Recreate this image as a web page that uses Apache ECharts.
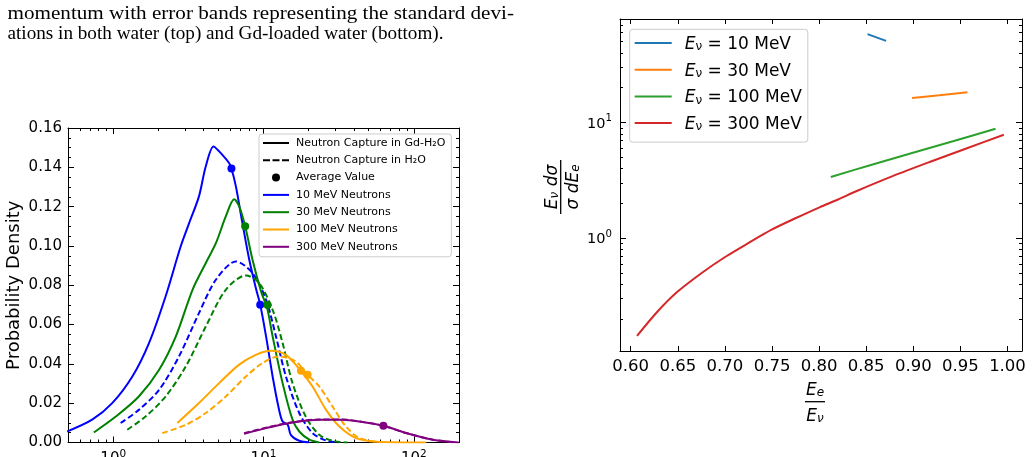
<!DOCTYPE html>
<html>
<head>
<meta charset="utf-8">
<script src="https://cdn.jsdelivr.net/npm/echarts@6/dist/echarts.min.js"></script>
<style>
  html, body { margin: 0; padding: 0; background: #fff; }
  #chart { width: 1033px; height: 457px; }
</style>
</head>
<body>
<div id="chart"></div>
<script>
const font = "DejaVu Sans";

// ---- left panel: probability density, x on a log axis ----
// solid = capture in Gd-H2O, dashed = capture in H2O
const blueGdX = [0.493, 0.724, 0.984, 1.34, 1.73, 2.23, 2.81, 3.2, 3.72, 4.13, 4.65, 5.07, 5.9, 6.12, 6.55, 7.24, 8.04, 8.89, 9.51, 10.4, 11.5, 12.7, 13.4, 14.5, 15.2, 17.3, 20.2];
const blueGdY = [0.0056, 0.0116, 0.02, 0.0336, 0.0506, 0.0743, 0.0997, 0.1116, 0.1252, 0.1405, 0.1506, 0.1481, 0.1422, 0.1394, 0.1303, 0.1116, 0.093, 0.0786, 0.0701, 0.054, 0.0336, 0.0166, 0.0107, 0.009, 0.0039, 0.0009, 0];
const blueH2oX = [1.12, 1.48, 2.02, 2.74, 3.72, 4.82, 6.55, 8.45, 10.4, 12.1, 14.1, 17.3, 21.2, 26.1, 31.6];
const blueH2oY = [0.0099, 0.0166, 0.0268, 0.0438, 0.0658, 0.0828, 0.0921, 0.0862, 0.0726, 0.054, 0.0336, 0.015, 0.0048, 0.001, 0];

const greenGdX = [0.743, 1.04, 1.48, 2.02, 2.61, 3.37, 4.13, 4.82, 5.61, 6.38, 6.89, 7.55, 8.45, 9.62, 10.6, 11.5, 13.4, 15.6, 17.3, 20.2, 23.5];
const greenGdY = [0.0051, 0.0132, 0.0234, 0.037, 0.054, 0.0777, 0.0913, 0.1014, 0.115, 0.1238, 0.1201, 0.11, 0.093, 0.077, 0.068, 0.054, 0.0302, 0.0116, 0.0056, 0.0014, 0];
const greenH2oX = [1.24, 1.64, 2.23, 3.04, 4.13, 5.61, 7.64, 9.35, 11.5, 13.4, 15.6, 19.1, 23.5, 28.8, 36.3];
const greenH2oY = [0.0065, 0.0132, 0.0234, 0.0387, 0.059, 0.0777, 0.085, 0.0811, 0.0675, 0.0506, 0.0302, 0.0132, 0.0039, 0.0009, 0];

const orangeGdX = [2.67, 3.72, 5.07, 6.89, 8.89, 11.2, 14.1, 17.7, 21.2, 26.1, 32.0, 41.3, 56.1, 121];
const orangeGdY = [0.0099, 0.0201, 0.0302, 0.0396, 0.0446, 0.0467, 0.0446, 0.0365, 0.0285, 0.0166, 0.0081, 0.0022, 0.0004, 0];
const orangeH2oX = [2.12, 3.04, 4.13, 5.61, 7.64, 9.84, 12.7, 16.4, 19.6, 23.5, 28.8, 35.4, 43.5, 57.5];
const orangeH2oY = [0.0048, 0.009, 0.015, 0.0234, 0.0336, 0.0404, 0.0438, 0.0412, 0.0345, 0.0285, 0.0183, 0.0081, 0.0022, 0.0004];

const purpleGdX = [7.43, 10.4, 15.6, 23.5, 33.7, 43.5, 62.8, 88.9, 134, 199];
const purpleGdY = [0.0044, 0.0073, 0.0102, 0.0116, 0.0116, 0.0107, 0.0085, 0.0048, 0.0014, 0];
const purpleH2oX = [7.43, 10.4, 15.6, 23.5, 33.7, 43.5, 62.8, 88.9, 134, 190];
const purpleH2oY = [0.0047, 0.0075, 0.0103, 0.0117, 0.0117, 0.0107, 0.0085, 0.0048, 0.0014, 0];

// average values (dots)
const avgBlueX = [6.12, 9.51];
const avgBlueY = [0.1394, 0.0701];
const avgGreenX = [7.55, 10.65];
const avgGreenY = [0.11, 0.07];
const avgOrangeX = [17.75, 19.65];
const avgOrangeY = [0.0365, 0.0345];
const avgPurpleX = [62.8];
const avgPurpleY = [0.0085];

const leftXMajor = [1, 10, 100];
const leftXMinor = [0.6, 0.7, 0.8, 0.9, 2, 3, 4, 5, 6, 7, 8, 9, 20, 30, 40, 50, 60, 70, 80, 90];

// ---- right panel: Ee/Ev vs normalised cross section, y on a log axis ----
const e10X = [0.8514, 0.8711];
const e10Y = [58.2, 50.9];
const e30X = [0.8987, 0.9275, 0.9575];
const e30Y = [16.3, 17.2, 18.3];
const e100X = [0.8124, 0.855, 0.8987, 0.943, 0.9873];
const e100Y = [3.38, 4.3, 5.45, 6.92, 8.83];
const e300X = [0.6067, 0.628, 0.6492, 0.6757, 0.7006, 0.7253, 0.7501, 0.7749, 0.8004, 0.82, 0.84, 0.878, 0.918, 0.957, 0.9961];
const e300Y = [0.143, 0.23, 0.342, 0.503, 0.691, 0.912, 1.19, 1.487, 1.85, 2.16, 2.56, 3.44, 4.58, 6.0, 7.85];

const rightXTicks = [0.6, 0.65, 0.7, 0.75, 0.8, 0.85, 0.9, 0.95, 1.0];
const rightYMajor = [1, 10];
const rightYMinor = [0.2, 0.3, 0.4, 0.5, 0.6, 0.7, 0.8, 0.9, 2, 3, 4, 5, 6, 7, 8, 9, 20, 30, 40, 50, 60, 70];

const lg = Math.log10;
const logX = (xs, ys) => xs.map((x, i) => [lg(x), ys[i]]);
const logY = (xs, ys) => xs.map((x, i) => [x, lg(ys[i])]);

const supLabel = (size) => ({
  b: { fontFamily: font, fontSize: size, color: "#000", verticalAlign: "bottom", lineHeight: size + 3 },
  s: { fontFamily: font, fontSize: size * 0.7, color: "#000", verticalAlign: "top", lineHeight: size * 0.7 },
});

const tickAxis = (opt) => ({
  type: "value",
  gridIndex: opt.grid,
  position: opt.pos,
  min: opt.min,
  max: opt.max,
  interval: opt.interval,
  splitLine: { show: false },
  nameMoveOverlap: false,
  axisLine: { show: opt.line !== false, onZero: false, lineStyle: { color: "#000", width: 1 } },
  axisTick: {
    show: true,
    inside: true,
    length: opt.len || 6,
    customValues: opt.ticks,
    lineStyle: { color: "#000", width: 1 },
  },
  minorTick: opt.minor
    ? { show: true, splitNumber: opt.minor, length: 3, lineStyle: { color: "#000", width: 1 } }
    : { show: false },
  axisLabel: opt.label || { show: false },
});

const LX = [lg(0.5), lg(200)];
const RX = [0.5886, 1.0154];
const RY = [-0.9755, 1.8955];

const xAxis = [
  tickAxis({
    grid: 0, pos: "bottom", min: LX[0], max: LX[1], ticks: leftXMajor.map(lg),
    label: {
      show: true, margin: 6, customValues: leftXMajor.map(lg),
      formatter: (v) => "{b|10}{s|" + Math.round(v) + "}", rich: supLabel(15),
    },
  }),
  tickAxis({ grid: 0, pos: "bottom", min: LX[0], max: LX[1], ticks: leftXMinor.map(lg), len: 3, line: false }),
  tickAxis({ grid: 0, pos: "top", min: LX[0], max: LX[1], ticks: leftXMajor.map(lg) }),
  tickAxis({ grid: 0, pos: "top", min: LX[0], max: LX[1], ticks: leftXMinor.map(lg), len: 3, line: false }),
  tickAxis({
    grid: 1, pos: "bottom", min: RX[0], max: RX[1], ticks: rightXTicks, len: 5,
    label: {
      show: true, margin: 7, customValues: rightXTicks, color: "#000",
      fontFamily: font, fontSize: 16.5, formatter: (v) => v.toFixed(2),
    },
  }),
  tickAxis({ grid: 1, pos: "top", min: RX[0], max: RX[1], ticks: rightXTicks, len: 5 }),
];

const yAxis = [
  Object.assign(
    tickAxis({
      grid: 0, pos: "left", min: 0, max: 0.16, interval: 0.02, minor: 4,
      label: { show: true, margin: 6, color: "#000", fontFamily: font, fontSize: 15, formatter: (v) => v.toFixed(2) },
    }),
    {
      name: "Probability Density",
      nameLocation: "middle",
      nameGap: 45,
      nameRotate: 90,
      nameTextStyle: { fontFamily: font, fontSize: 18, color: "#000" },
    }
  ),
  tickAxis({ grid: 0, pos: "right", min: 0, max: 0.16, interval: 0.02, minor: 4 }),
  tickAxis({
    grid: 1, pos: "left", min: RY[0], max: RY[1], ticks: rightYMajor.map(lg),
    label: {
      show: true, margin: 8, customValues: rightYMajor.map(lg),
      formatter: (v) => "{b|10}{s|" + Math.round(v) + "}", rich: supLabel(14.5),
    },
  }),
  tickAxis({ grid: 1, pos: "left", min: RY[0], max: RY[1], ticks: rightYMinor.map(lg), len: 3, line: false }),
  tickAxis({ grid: 1, pos: "right", min: RY[0], max: RY[1], ticks: rightYMajor.map(lg) }),
  tickAxis({ grid: 1, pos: "right", min: RY[0], max: RY[1], ticks: rightYMinor.map(lg), len: 3, line: false }),
];

const BLUE = "#0000ff", GREEN = "#008000", ORANGE = "#ffa500", PURPLE = "#800080";

const leftLine = (name, color, dashed, xs, ys) => ({
  type: "line",
  name: name,
  xAxisIndex: 0,
  yAxisIndex: 0,
  data: logX(xs, ys),
  symbol: "none",
  smooth: 0.3,
  silent: true,
  lineStyle: { color: color, width: 2, type: dashed ? [6, 3] : "solid" },
});

const dots = (color, xs, ys) => ({
  type: "scatter",
  name: "avg " + color,
  xAxisIndex: 0,
  yAxisIndex: 0,
  data: logX(xs, ys),
  symbolSize: 8,
  silent: true,
  z: 3,
  itemStyle: { color: color, opacity: 1 },
});

// legend-only entries
const legendOnly = (name, color) => ({
  type: "scatter",
  name: name,
  xAxisIndex: 0,
  yAxisIndex: 0,
  data: [],
  itemStyle: { color: color, opacity: 1 },
});

const rightLine = (name, color, xs, ys) => ({
  type: "line",
  name: name,
  xAxisIndex: 4,
  yAxisIndex: 2,
  data: logY(xs, ys),
  symbol: "none",
  smooth: 0.3,
  silent: true,
  itemStyle: { color: color },
  lineStyle: { color: color, width: 2 },
});

const solidIcon = "path://M0,0h26v2h-26z";
const dashIcon = "path://M0,0h7v2h-7zM9.5,0h7v2h-7zM19,0h7v2h-7z";
const rightIcon = "path://M0,0h37v2h-37z";

const serif = "18px 'Liberation Serif'";

const option = {
  animation: false,
  backgroundColor: "#fff",
  grid: [
    { left: 68, top: 128, width: 391, height: 314.5, outerBoundsMode: "none" },
    { left: 620, top: 19, width: 402, height: 332, outerBoundsMode: "none" },
  ],
  xAxis: xAxis,
  yAxis: yAxis,
  legend: [
    {
      orient: "vertical",
      left: 259,
      top: 134,
      padding: [3, 6, 4, 4],
      itemWidth: 26,
      itemHeight: 8,
      itemGap: 5.3,
      selectedMode: false,
      backgroundColor: "rgba(255,255,255,0.8)",
      borderColor: "#cccccc",
      borderWidth: 1,
      borderRadius: 3,
      itemStyle: { borderWidth: 0 },
      textStyle: { fontFamily: font, fontSize: 11, lineHeight: 12, color: "#000", padding: [0, 0, 0, 2] },
      data: [
        { name: "Neutron Capture in Gd-H₂O", icon: solidIcon },
        { name: "Neutron Capture in H₂O", icon: dashIcon },
        { name: "Average Value", icon: "circle" },
        { name: "10 MeV Neutrons", icon: solidIcon },
        { name: "30 MeV Neutrons", icon: solidIcon },
        { name: "100 MeV Neutrons", icon: solidIcon },
        { name: "300 MeV Neutrons", icon: solidIcon },
      ],
    },
    {
      orient: "vertical",
      left: 629.7,
      top: 29.3,
      padding: [6.7, 6, 9, 5],
      itemWidth: 37,
      itemHeight: 20,
      itemGap: 9.7,
      selectedMode: false,
      backgroundColor: "rgba(255,255,255,0.8)",
      borderColor: "#cccccc",
      borderWidth: 1,
      borderRadius: 3,
      itemStyle: { borderWidth: 0 },
      formatter: (name) => "{i|E}{s|ν}{t| = " + name + "}",
      textStyle: {
        padding: [0, 0, 0, 8],
        rich: {
          i: { fontFamily: font, fontStyle: "italic", fontSize: 17, lineHeight: 20, color: "#000", verticalAlign: "bottom" },
          s: { fontFamily: font, fontSize: 12, lineHeight: 9, color: "#000", verticalAlign: "bottom" },
          t: { fontFamily: font, fontSize: 17, lineHeight: 20, color: "#000", verticalAlign: "bottom" },
        },
      },
      data: [
        { name: "10 MeV", icon: rightIcon },
        { name: "30 MeV", icon: rightIcon },
        { name: "100 MeV", icon: rightIcon },
        { name: "300 MeV", icon: rightIcon },
      ],
    },
  ],
  graphic: [
    {
      // caption lines from the page above the figure (first one is justified, so wider)
      type: "text", x: 7.5, y: 14, scaleX: 1.174,
      style: { text: "momentum with error bands representing the standard devi-", font: serif, fill: "#000", verticalAlign: "middle" },
    },
    {
      type: "text", x: 7.5, y: 34.5, scaleX: 1.065,
      style: { text: "ations in both water (top) and Gd-loaded water (bottom).", font: serif, fill: "#000", verticalAlign: "middle" },
    },
    {
      // x label of the right panel: Ee / Ev
      type: "group", x: 815, y: 401.7,
      children: [
        { type: "text", x: 0, y: -13, style: fracText("{i|E}{s|e}") },
        { type: "line", shape: { x1: -10, y1: 0, x2: 10, y2: 0 }, style: { stroke: "#000", lineWidth: 1.3 } },
        { type: "text", x: 0, y: 13, style: fracText("{i|E}{s|ν}") },
      ],
    },
    {
      // y label of the right panel: (Ev / sigma) dsigma/dEe
      type: "group", x: 560.7, y: 187, rotation: Math.PI / 2,
      children: [
        { type: "text", x: 0, y: -10, style: fracText("{i|E}{s|ν}{i| dσ}") },
        { type: "line", shape: { x1: -27, y1: 0, x2: 27, y2: 0 }, style: { stroke: "#000", lineWidth: 1.3 } },
        { type: "text", x: 0, y: 11, style: fracText("{i|σ dE}{s|e}") },
      ],
    },
  ],
  series: [
    leftLine("10 MeV Gd-H₂O", BLUE, false, blueGdX, blueGdY),
    leftLine("10 MeV H₂O", BLUE, true, blueH2oX, blueH2oY),
    leftLine("30 MeV Gd-H₂O", GREEN, false, greenGdX, greenGdY),
    leftLine("30 MeV H₂O", GREEN, true, greenH2oX, greenH2oY),
    leftLine("100 MeV Gd-H₂O", ORANGE, false, orangeGdX, orangeGdY),
    leftLine("100 MeV H₂O", ORANGE, true, orangeH2oX, orangeH2oY),
    leftLine("300 MeV Gd-H₂O", PURPLE, false, purpleGdX, purpleGdY),
    leftLine("300 MeV H₂O", PURPLE, true, purpleH2oX, purpleH2oY),
    dots(BLUE, avgBlueX, avgBlueY),
    dots(GREEN, avgGreenX, avgGreenY),
    dots(ORANGE, avgOrangeX, avgOrangeY),
    dots(PURPLE, avgPurpleX, avgPurpleY),
    legendOnly("Neutron Capture in Gd-H₂O", "#000"),
    legendOnly("Neutron Capture in H₂O", "#000"),
    legendOnly("Average Value", "#000"),
    legendOnly("10 MeV Neutrons", BLUE),
    legendOnly("30 MeV Neutrons", GREEN),
    legendOnly("100 MeV Neutrons", ORANGE),
    legendOnly("300 MeV Neutrons", PURPLE),
    rightLine("10 MeV", "#1f77b4", e10X, e10Y),
    rightLine("30 MeV", "#ff7f0e", e30X, e30Y),
    rightLine("100 MeV", "#2ca02c", e100X, e100Y),
    rightLine("300 MeV", "#d62728", e300X, e300Y),
  ],
};

function fracText(t) {
  return {
    text: t,
    align: "center",
    verticalAlign: "middle",
    rich: {
      i: { fontFamily: font, fontStyle: "italic", fontSize: 17, lineHeight: 20, fill: "#000", verticalAlign: "bottom" },
      s: { fontFamily: font, fontStyle: "italic", fontSize: 12, lineHeight: 9, fill: "#000", verticalAlign: "bottom" },
    },
  };
}

const chart = echarts.init(document.getElementById("chart"));
chart.setOption(option);
</script>
</body>
</html>
